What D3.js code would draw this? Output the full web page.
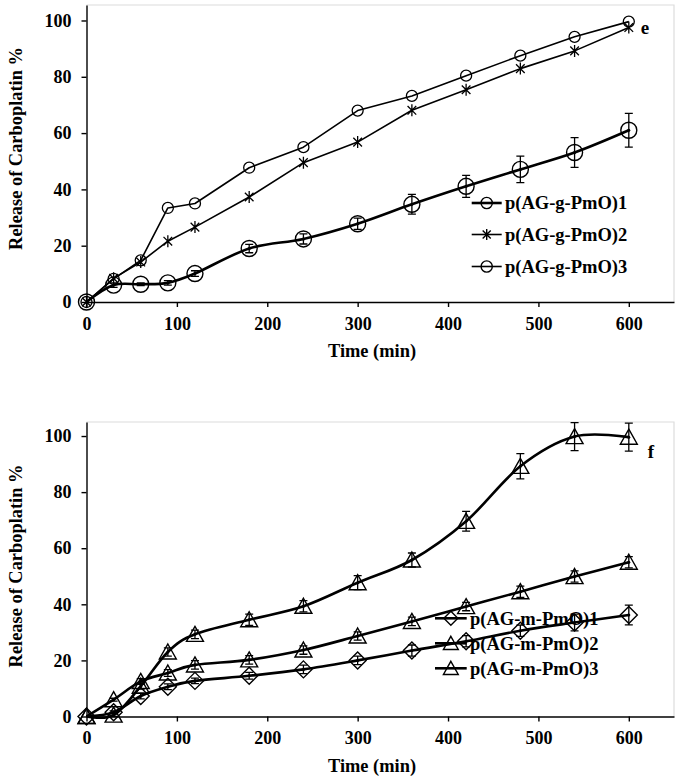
<!DOCTYPE html>
<html><head><meta charset="utf-8">
<script src="https://cdn.jsdelivr.net/npm/d3@7"></script>
<style>
body{margin:0;background:#fff}
svg{display:block}
text{font-family:"Liberation Serif","Times New Roman",serif;font-weight:bold;fill:#000}
</style>
</head><body><svg id="c" width="683" height="783"></svg>
<script>
// ---------- data ----------
const times = [0,30,60,90,120,180,240,300,360,420,480,540,600];
const xTicks = [0,100,200,300,400,500,600];
const yTicks = [0,20,40,60,80,100];
const yTitle = "Release of Carboplatin %";
const xTitle = "Time (min)";

const gNames = ["p(AG-g-PmO)1","p(AG-g-PmO)2","p(AG-g-PmO)3"];
const g1 = [0,6,6.3,6.8,10.1,19,22.4,27.8,34.7,41.1,47.1,53.1,61];
const g1err = [0,0.8,0.5,0.8,1,1.5,1.8,2,3.5,3.9,4.7,5.3,6];
const g2 = [0,8.4,14.2,21.6,26.6,37.3,49.5,56.8,68.1,75.4,82.9,89.2,97.5];
const g3 = [0,8.2,14.8,33.4,35,47.7,55,68,73.2,80.4,87.5,94.2,99.6];

const mNames = ["p(AG-m-PmO)1","p(AG-m-PmO)2","p(AG-m-PmO)3"];
const m1 = [0,1.5,7.3,10.6,12.7,14.5,16.8,20,23.5,26.8,30.6,33.5,36.2];
const m1err = [0,0.5,1,1,1,1.2,1.5,1.5,2,2,2,3,3.5];
const m2 = [0,6,12.5,15.5,18.4,20.2,23.7,28.7,33.9,39.2,44.5,49.9,55];
const m2err = [0,0.5,1,1.2,1.5,1.5,1.5,1.5,1.5,1.5,2,2,2];
const m3 = [0,0.5,10.8,23,29.3,34.5,39.3,47.7,55.8,69.6,89.2,99.8,99.6];
const m3err = [0,0.5,1,1.5,1.5,2,2,2.5,2.5,3.5,4.5,5,5];

// ---------- helpers ----------
const svg = d3.select("#c");
svg.append("rect").attr("width",683).attr("height",783).attr("fill","#fff");

const markerPaths = {
  diamond: s => `M0,${-s}L${s},0L0,${s}L${-s},0Z`,
  triangle: s => `M0,${-s}L${s*1.06},${s*0.88}L${-s*1.06},${s*0.88}Z`,
  star: s => { const d = s*0.72; return `M0,${-s}L0,${s}M${-d},${-d}L${d},${d}M${-d},${d}L${d},${-d}`; }
};

function drawMarker(g, type, size, cx, cy, sw) {
  if (type === "circle") {
    g.append("circle").attr("cx",cx).attr("cy",cy).attr("r",size)
      .attr("fill","none").attr("stroke","#000").attr("stroke-width",sw);
  } else {
    g.append("path").attr("d",markerPaths[type](size))
      .attr("transform",`translate(${cx},${cy})`)
      .attr("fill","none").attr("stroke","#000").attr("stroke-width",sw)
      .attr("stroke-linejoin","miter");
  }
}

function panel(cfg) {
  const x = d3.scaleLinear().domain([0,650]).range([86.5,674]);
  const y = d3.scaleLinear().domain([0,cfg.yMax]).range([cfg.axisY,cfg.topY]);
  const g = svg.append("g");

  // light frame (top/right)
  g.append("path")
    .attr("d",`M${x(0)},${y(cfg.yMax)}H${x(650)}V${y(0)}`)
    .attr("fill","none").attr("stroke","#dcdcdc").attr("stroke-width",1.2);

  const xa = g.append("g").attr("transform",`translate(0,${y(0)})`)
    .call(d3.axisBottom(x).tickValues(xTicks).tickSize(5).tickSizeOuter(0).tickPadding(10));
  const ya = g.append("g").attr("transform",`translate(${x(0)},0)`)
    .call(d3.axisLeft(y).tickValues(yTicks).tickSize(5).tickSizeOuter(0).tickPadding(10));
  [xa,ya].forEach(a => {
    a.selectAll("path,line").attr("stroke","#000").attr("stroke-width",1.4);
    a.selectAll("text").style("font-size","18px").style("font-family",'"Liberation Serif","Times New Roman",serif').style("font-weight","bold");
  });

  g.append("text").attr("transform",`translate(16,${cfg.yTitleY}) rotate(-90)`)
    .attr("text-anchor","middle").attr("dy","0.35em").style("font-size","18.4px").text(yTitle);
  g.append("text").attr("x",372).attr("y",y(0)+55).attr("text-anchor","middle")
    .style("font-size","18.4px").text(xTitle);

  cfg.series.forEach(s => {
    const pts = times.map((t,i) => [x(t), y(s.values[i])]);
    const line = d3.line().curve(s.smooth ? d3.curveCatmullRom.alpha(0) : d3.curveLinear);
    g.append("path").attr("d",line(pts)).attr("fill","none")
      .attr("stroke","#000").attr("stroke-width",s.lw).attr("stroke-linejoin","round");
  });
  cfg.series.forEach(s => {
    times.forEach((t,i) => {
      if (s.err) {
        const e = s.err[i], v = s.values[i];
        if (e > 0) {
          const cx = x(t);
          g.append("path")
            .attr("d",`M${cx},${y(v-e)}V${y(v+e)}M${cx-4},${y(v-e)}H${cx+4}M${cx-4},${y(v+e)}H${cx+4}`)
            .attr("stroke","#000").attr("stroke-width",1.3).attr("fill","none");
          g.append("circle").attr("cx",cx).attr("cy",y(v)).attr("r",1.5).attr("fill","#000");
        }
      }
      drawMarker(g, s.marker, s.size, x(t), y(s.values[i]), s.msw);
    });
  });

  // legend
  cfg.series.forEach((s,i) => {
    const L = cfg.legend, cy = L.rows[i];
    g.append("line").attr("x1",L.x1).attr("x2",L.x2).attr("y1",cy).attr("y2",cy)
      .attr("stroke","#000").attr("stroke-width",s.legLw || s.lw);
    drawMarker(g, s.marker, L.msize, (L.x1+L.x2)/2, cy, 1.4);
    g.append("text").attr("x",L.tx).attr("y",cy).attr("dy","0.35em")
      .style("font-size",L.fs+"px").text(s.name);
  });

  g.append("text").attr("x",cfg.tag.x).attr("y",cfg.tag.y).attr("dy","0.35em")
    .attr("text-anchor","middle").style("font-size","19px").text(cfg.tag.t);
}

panel({
  yMax:105.5, axisY:302, topY:5, yTitleY:148.5,
  series:[
    {name:gNames[0], values:g1, err:g1err, marker:"circle", size:8, lw:2.6, msw:1.4, smooth:true},
    {name:gNames[1], values:g2, marker:"star", size:6, lw:1.6, msw:1.3, smooth:false},
    {name:gNames[2], values:g3, marker:"circle", size:5.5, lw:1.6, msw:1.3, smooth:false}
  ],
  legend:{rows:[203,234.5,266.5], x1:471.7, x2:501.7, tx:505, fs:18.5, msize:5.6},
  tag:{t:"e", x:645, y:27}
});

panel({
  yMax:105, axisY:716.5, topY:422, yTitleY:566,
  series:[
    {name:mNames[0], values:m1, err:m1err, marker:"diamond", size:8.5, lw:2.6, msw:1.4, smooth:true},
    {name:mNames[1], values:m2, err:m2err, marker:"triangle", size:8, lw:2.6, msw:1.4, smooth:true},
    {name:mNames[2], values:m3, err:m3err, marker:"triangle", size:8, lw:2.6, msw:1.4, smooth:true}
  ],
  legend:{rows:[618.3,643.3,668.3], x1:435, x2:466.7, tx:470, fs:18.5, msize:7},
  tag:{t:"f", x:651, y:451}
});
</script>
</body></html>
